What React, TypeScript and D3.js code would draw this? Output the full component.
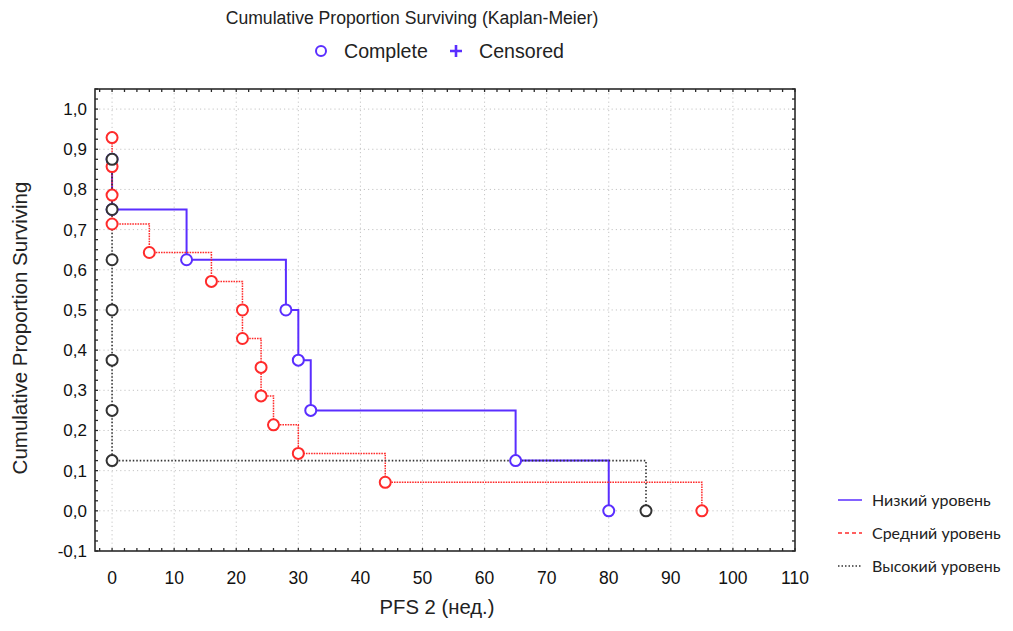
import React from "react";
import * as d3 from "d3";

const lowTimes = [0, 0, 12, 28, 30, 32, 65, 80];
const lowSurv = [0.875, 0.75, 0.625, 0.5, 0.375, 0.25, 0.125, 0];
const midTimes = [0, 0, 0, 0, 6, 16, 21, 21, 24, 24, 26, 30, 44, 95];
const midSurv = [0.929, 0.857, 0.786, 0.714, 0.643, 0.571, 0.5, 0.429, 0.357, 0.286, 0.214, 0.143, 0.071, 0];
const highTimes = [0, 0, 0, 0, 0, 0, 0, 86];
const highSurv = [0.875, 0.75, 0.625, 0.5, 0.375, 0.25, 0.125, 0];

const xTicks = [0, 10, 20, 30, 40, 50, 60, 70, 80, 90, 100, 110];
const yTicks = [-0.1, 0, 0.1, 0.2, 0.3, 0.4, 0.5, 0.6, 0.7, 0.8, 0.9, 1.0];
const seriesNames = ["Низкий уровень", "Средний уровень", "Высокий уровень"];

const W = 1013, H = 631;
const L = 95, R = 795, T = 89, B = 551;

const BLUE = "#5a2eff";
const RED = "#ff2b2b";
const BLACK = "#333333";

export default function App() {
  const x = d3.scaleLinear().domain([-2.75, 110]).range([L, R]);
  const y = d3.scaleLinear().domain([-0.1, 1.05]).range([B, T]);
  const line = d3
    .line<[number, number]>()
    .x((d) => x(d[0]))
    .y((d) => y(d[1]))
    .curve(d3.curveStepAfter);

  const series = [
    { name: seriesNames[0], t: lowTimes, s: lowSurv, color: BLUE, dash: "none", width: 2 },
    { name: seriesNames[1], t: midTimes, s: midSurv, color: RED, dash: "1.6,1", width: 1.5 },
    { name: seriesNames[2], t: highTimes, s: highSurv, color: BLACK, dash: "1.5,2", width: 1.6 },
  ];

  const xMinor = d3.range(-2, 110.01, 2);
  const yMinor = d3.range(-0.1, 1.0501, 0.025);
  const font = "'Liberation Sans', Arial, sans-serif";
  const fmtY = (v: number) => d3.format(".1f")(v).replace(".", ",").replace("−", "-");

  return (
    <svg width={W} height={H} style={{ position: "absolute", left: 0, top: 0, background: "#fff" }} fontFamily={font}>
      {/* title */}
      <text x={412} y={24} textAnchor="middle" fontSize={17.6} fill="#222">
        Cumulative Proportion Surviving (Kaplan-Meier)
      </text>
      <circle cx={321} cy={51} r={5} fill="none" stroke={BLUE} strokeWidth={2} />
      <text x={344} y={58} fontSize={19.6} fill="#222">Complete</text>
      <path d="M450,51 h12 M456,45 v12" stroke={BLUE} strokeWidth={2.6} />
      <text x={479} y={58} fontSize={19.6} fill="#222">Censored</text>

      {/* grid */}
      {xTicks.filter((v) => v < 110).map((v) => (
        <line key={"gx" + v} x1={x(v)} x2={x(v)} y1={T} y2={B} stroke="#c4c4c4" strokeDasharray="1.2,3" />
      ))}
      {yTicks.filter((v) => v > -0.1).map((v) => (
        <line key={"gy" + v} x1={L} x2={R} y1={y(v)} y2={y(v)} stroke="#c4c4c4" strokeDasharray="1.2,3" />
      ))}

      {/* frame */}
      <rect x={L} y={T} width={R - L} height={B - T} fill="none" stroke="#2a2a2a" strokeWidth={1.6} />
      {/* ticks */}
      {xMinor.map((v, i) => (
        <g key={"xt" + i}>
          <line x1={x(v)} x2={x(v)} y1={B} y2={B - 3} stroke="#2a2a2a" strokeWidth={1.3} />
          <line x1={x(v)} x2={x(v)} y1={T} y2={T + 3} stroke="#2a2a2a" strokeWidth={1.3} />
        </g>
      ))}
      {yMinor.map((v, i) => (
        <g key={"yt" + i}>
          <line x1={L} x2={L + 3} y1={y(v)} y2={y(v)} stroke="#2a2a2a" strokeWidth={1.3} />
          <line x1={R} x2={R - 3} y1={y(v)} y2={y(v)} stroke="#2a2a2a" strokeWidth={1.3} />
        </g>
      ))}

      {/* tick labels */}
      {xTicks.map((v) => (
        <text key={"xl" + v} x={x(v)} y={584} textAnchor="middle" fontSize={17.5} fill="#111">
          {v}
        </text>
      ))}
      {yTicks.map((v) => (
        <text key={"yl" + v} x={87} y={y(v) + 6} textAnchor="end" fontSize={17} fill="#111">
          {fmtY(v)}
        </text>
      ))}

      {/* axis titles */}
      <text x={437} y={614} textAnchor="middle" fontSize={20.3} fill="#222">PFS 2 (нед.)</text>
      <text transform={`translate(27,328) rotate(-90)`} textAnchor="middle" fontSize={20.5} fill="#222">
        Cumulative Proportion Surviving
      </text>

      {/* lines */}
      {series.map((s) => (
        <path
          key={"l" + s.name}
          d={line(s.t.map((t, i) => [t, s.s[i]] as [number, number])) || ""}
          fill="none"
          stroke={s.color}
          strokeWidth={s.width}
          strokeDasharray={s.dash}
        />
      ))}
      {/* points */}
      {series.map((s) => (
        <g key={"p" + s.name}>
          {s.t.map((t, i) => (
            <circle key={i} cx={x(t)} cy={y(s.s[i])} r={5.5} fill="#fff" stroke={s.color} strokeWidth={2} />
          ))}
        </g>
      ))}

      {/* right legend */}
      {series.map((s, i) => (
        <g key={"lg" + s.name} transform={`translate(0,${500 + i * 33})`}>
          <line x1={838} x2={862} y1={0} y2={0} stroke={s.color} strokeWidth={1.5} strokeDasharray={i === 1 ? "4,3" : i === 2 ? "1.5,2" : "none"} />
          <text x={872} y={6} fontSize={16} fill="#222" fontFamily="Lato, 'Noto Sans', sans-serif">
            {s.name}
          </text>
        </g>
      ))}
    </svg>
  );
}
